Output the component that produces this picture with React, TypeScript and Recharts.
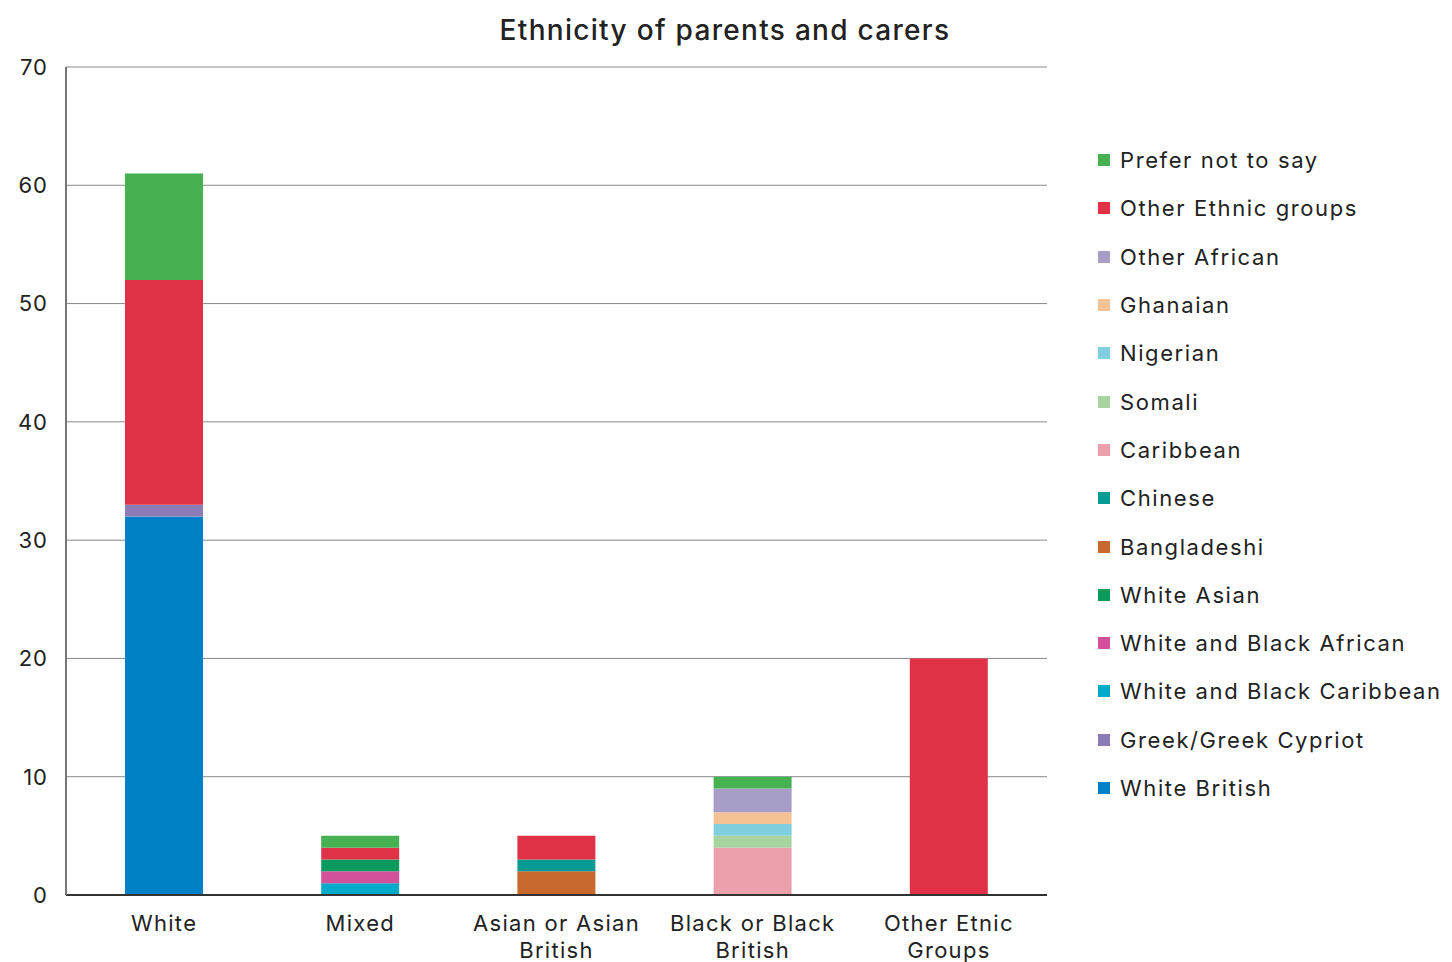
import React from "react";
import { BarChart, Bar, XAxis, YAxis, CartesianGrid, Legend } from "recharts";

const categories = ["White", "Mixed", "Asian or Asian British", "Black or Black British", "Other Etnic Groups"];

// stack order, bottom to top
const seriesNames = [
  "White British",
  "Greek/Greek Cypriot",
  "White and Black Caribbean",
  "White and Black African",
  "White Asian",
  "Bangladeshi",
  "Chinese",
  "Caribbean",
  "Somali",
  "Nigerian",
  "Ghanaian",
  "Other African",
  "Other Ethnic groups",
  "Prefer not to say",
];

const seriesColors = [
  "#0081c7",
  "#8c7bb7",
  "#00abc9",
  "#d3509b",
  "#0b9a5e",
  "#c8692e",
  "#069a92",
  "#eba0ab",
  "#a7d49f",
  "#80cfdf",
  "#f4c295",
  "#a89dc6",
  "#e03146",
  "#46b150",
];

// values per category: White, Mixed, Asian, Black, Other
const whiteBritish = [32, 0, 0, 0, 0];
const greekCypriot = [1, 0, 0, 0, 0];
const whiteBlackCaribbean = [0, 1, 0, 0, 0];
const whiteBlackAfrican = [0, 1, 0, 0, 0];
const whiteAsian = [0, 1, 0, 0, 0];
const bangladeshi = [0, 0, 2, 0, 0];
const chinese = [0, 0, 1, 0, 0];
const caribbean = [0, 0, 0, 4, 0];
const somali = [0, 0, 0, 1, 0];
const nigerian = [0, 0, 0, 1, 0];
const ghanaian = [0, 0, 0, 1, 0];
const otherAfrican = [0, 0, 0, 2, 0];
const otherEthnic = [19, 1, 2, 0, 20];
const preferNot = [9, 1, 0, 1, 0];

const seriesValues = [
  whiteBritish,
  greekCypriot,
  whiteBlackCaribbean,
  whiteBlackAfrican,
  whiteAsian,
  bangladeshi,
  chinese,
  caribbean,
  somali,
  nigerian,
  ghanaian,
  otherAfrican,
  otherEthnic,
  preferNot,
];

const yTicks = [0, 10, 20, 30, 40, 50, 60, 70];

const data = categories.map((name, i) => {
  const row: Record<string, string | number> = { name };
  seriesNames.forEach((s, j) => {
    row[s] = seriesValues[j][i];
  });
  return row;
});

const FONT = "Inter, 'Open Sans', sans-serif";

function wrap(text: string, max: number) {
  const words = text.split(" ");
  const lines: string[] = [];
  let cur = "";
  words.forEach((w) => {
    const next = cur ? cur + " " + w : w;
    if (next.length > max && cur) {
      lines.push(cur);
      cur = w;
    } else {
      cur = next;
    }
  });
  if (cur) lines.push(cur);
  return lines;
}

function CategoryTick({ x, y, payload }: any) {
  const lines = wrap(payload.value, 14);
  return (
    <g transform={`translate(${x},${y})`}>
      {lines.map((l, i) => (
        <text
          key={i}
          x={0}
          y={28 + i * 27}
          textAnchor="middle"
          fill="#222"
          fontSize={22}
          fontFamily={FONT}
          letterSpacing={1.3}
        >
          {l}
        </text>
      ))}
    </g>
  );
}

function LegendList() {
  const items = seriesNames.map((n, i) => ({ n, c: seriesColors[i] })).reverse();
  return (
    <div style={{ fontFamily: FONT }}>
      {items.map((it) => (
        <div key={it.n} style={{ display: "flex", alignItems: "center", height: 48.3 }}>
          <span style={{ width: 12, height: 12, background: it.c, display: "inline-block", marginRight: 10 }} />
          <span style={{ fontSize: 22, color: "#222", whiteSpace: "nowrap", letterSpacing: 1.6 }}>{it.n}</span>
        </div>
      ))}
    </div>
  );
}

export default function App() {
  return (
    <div style={{ position: "fixed", left: 0, top: 0, width: 1452, height: 962, background: "#fff" }}>
      <div
        style={{
          position: "absolute",
          left: 66,
          width: 1318,
          top: 13,
          textAlign: "center",
          fontFamily: FONT,
          fontSize: 28,
          fontWeight: 500,
          color: "#222",
          letterSpacing: 1.3,
        }}
      >
        Ethnicity of parents and carers
      </div>
      <BarChart
        width={1452}
        height={962}
        data={data}
        margin={{ top: 67, right: 405, left: 8, bottom: 7 }}
      >
        <CartesianGrid vertical={false} stroke="#8a8a8a" strokeWidth={1} />
        <XAxis
          dataKey="name"
          tick={<CategoryTick />}
          tickLine={false}
          axisLine={{ stroke: "#333", strokeWidth: 2 }}
          height={60}
          interval={0}
        />
        <YAxis
          width={58}
          domain={[0, 70]}
          ticks={yTicks}
          tickLine={false}
          axisLine={{ stroke: "#777", strokeWidth: 2 }}
          tick={{ fill: "#222", fontSize: 22, fontFamily: FONT, dx: -10, letterSpacing: 1 }}
        />
        <Legend
          layout="horizontal"
          verticalAlign="middle"
          content={<LegendList />}
          wrapperStyle={{ position: "absolute", left: 1098, top: 136, width: 354 }}
        />
        {seriesNames.map((s, i) => (
          <Bar key={s} dataKey={s} stackId="a" fill={seriesColors[i]} barSize={78} isAnimationActive={false} />
        ))}
      </BarChart>
    </div>
  );
}
